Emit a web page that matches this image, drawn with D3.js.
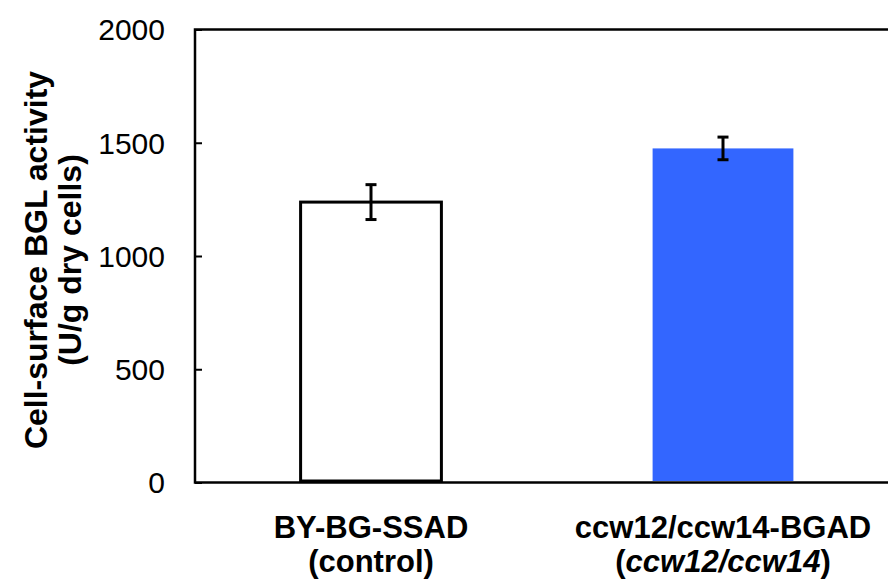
<!DOCTYPE html>
<html>
<head>
<meta charset="utf-8">
<script src="https://cdn.jsdelivr.net/npm/d3@7"></script>
<style>
  body { margin: 0; background: #fff; }
  text { font-family: "Liberation Sans", Arial, sans-serif; fill: #000; }
</style>
</head>
<body>
<div id="chart"></div>
<script>
// Data
const categories = ["BY-BG-SSAD", "ccw12/ccw14-BGAD"];
const subLabels = ["(control)", "(ccw12/ccw14)"];
const values = [1238, 1475];
const errors = [77, 50];
const barFills = ["#ffffff", "#3366ff"];
const yTicks = [0, 500, 1000, 1500, 2000];

const W = 888, H = 588;
const plot = {left: 195, top: 29.5, right: 899, bottom: 482.5};

const svg = d3.select("#chart").append("svg")
  .attr("width", W)
  .attr("height", H);

// scales
const xScale = d3.scaleBand()
  .domain(categories)
  .range([plot.left, plot.right])
  .paddingInner(0.6)
  .paddingOuter(0.3);

const yScale = d3.scaleLinear()
  .domain([0, 2000])
  .range([plot.bottom, plot.top]);

// bars
svg.selectAll("rect.bar")
  .data(categories)
  .enter().append("rect")
  .attr("class", "bar")
  .attr("x", d => xScale(d))
  .attr("width", xScale.bandwidth())
  .attr("y", (d, i) => yScale(values[i]))
  .attr("height", (d, i) => yScale(0) - yScale(values[i]) - 1.5)
  .attr("fill", (d, i) => barFills[i])
  .attr("stroke", (d, i) => i === 0 ? "#000" : "none")
  .attr("stroke-width", 3);

// error bars
const capHalf = 5.5;
categories.forEach((c, i) => {
  const cx = xScale(c) + xScale.bandwidth() / 2;
  const yTop = yScale(values[i] + errors[i]);
  const yBot = yScale(values[i] - errors[i]);
  const g = svg.append("g").attr("stroke", "#000").attr("stroke-width", 3);
  g.append("line").attr("x1", cx).attr("x2", cx).attr("y1", yTop).attr("y2", yBot);
  g.append("line").attr("x1", cx - capHalf).attr("x2", cx + capHalf).attr("y1", yTop).attr("y2", yTop);
  g.append("line").attr("x1", cx - capHalf).attr("x2", cx + capHalf).attr("y1", yBot).attr("y2", yBot);
});

// plot frame
svg.append("rect")
  .attr("x", plot.left)
  .attr("y", plot.top)
  .attr("width", plot.right - plot.left)
  .attr("height", plot.bottom - plot.top)
  .attr("fill", "none")
  .attr("stroke", "#000")
  .attr("stroke-width", 2.5);

// y axis: inside ticks, labels placed separately
const yAxis = svg.append("g")
  .attr("transform", "translate(" + plot.left + ",0)")
  .call(d3.axisRight(yScale).tickValues(yTicks).tickSize(7).tickFormat(""));
yAxis.select(".domain").remove();
yAxis.selectAll("line").attr("stroke", "#000").attr("stroke-width", 2);

svg.selectAll("text.ytick")
  .data(yTicks)
  .enter().append("text")
  .attr("class", "ytick")
  .attr("x", 165)
  .attr("y", d => yScale(d))
  .attr("dy", "0.36em")
  .attr("text-anchor", "end")
  .style("font-size", "30px")
  .text(d => d);

// y axis title (two lines)
const titleY = (plot.top + plot.bottom) / 2 + 4;
[["Cell-surface BGL activity", 47], ["(U/g dry cells)", 81]].forEach(([t, x]) => {
  svg.append("text")
    .attr("transform", "translate(" + x + "," + titleY + ") rotate(-90)")
    .attr("text-anchor", "middle")
    .style("font-size", "32px")
    .style("font-weight", "bold")
    .text(t);
});

// x labels
categories.forEach((c, i) => {
  const cx = xScale(c) + xScale.bandwidth() / 2;
  svg.append("text")
    .attr("x", cx)
    .attr("y", 538)
    .attr("text-anchor", "middle")
    .style("font-size", "31px")
    .style("font-weight", "bold")
    .text(c);
  const t2 = svg.append("text")
    .attr("x", cx)
    .attr("y", 572)
    .attr("text-anchor", "middle")
    .style("font-size", "31px")
    .style("font-weight", "bold");
  if (i === 1) {
    t2.append("tspan").text("(");
    t2.append("tspan").style("font-style", "italic").text("ccw12/ccw14");
    t2.append("tspan").text(")");
  } else {
    t2.text(subLabels[i]);
  }
});
</script>
</body>
</html>
